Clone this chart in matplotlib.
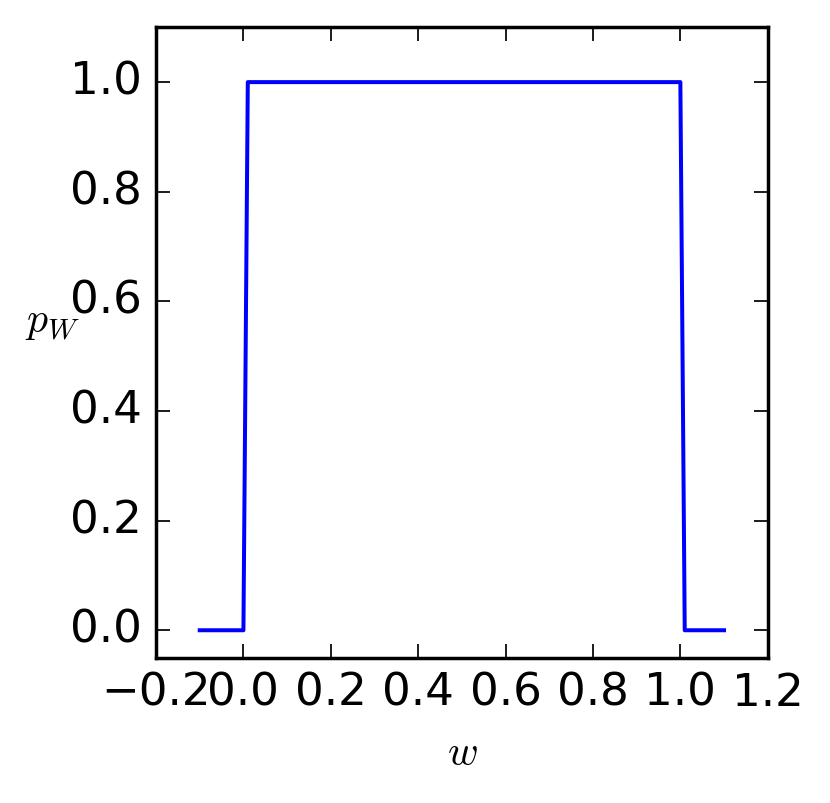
import numpy as np
import matplotlib
matplotlib.use("Agg")
from matplotlib import pyplot as plt

plt.style.use("classic")

# uniform density
w_vals = [-0.1, 0.0, 0.01, 1.0, 1.01, 1.1]
p_vals = [0.0, 0.0, 1.0, 1.0, 0.0, 0.0]

x_ticks = [-0.2, 0.0, 0.2, 0.4, 0.6, 0.8, 1.0, 1.2]
y_ticks = [0.0, 0.2, 0.4, 0.6, 0.8, 1.0]

fig = plt.figure(figsize=(3.32, 3.212), dpi=250, facecolor="white")
ax = fig.add_axes([0.188, 0.181, 0.737, 0.785])

ax.plot(w_vals, p_vals, color="b", linewidth=1.15)

ax.set_xlim(-0.2, 1.2)
ax.set_ylim(-0.05, 1.1)
ax.set_xticks(x_ticks)
ax.set_yticks(y_ticks)
ax.tick_params(labelsize=13)

ax.set_xlabel("$w$")
ax.set_ylabel("$p_W$", rotation=0)

fig.savefig("out.png", dpi=250, facecolor="white")
